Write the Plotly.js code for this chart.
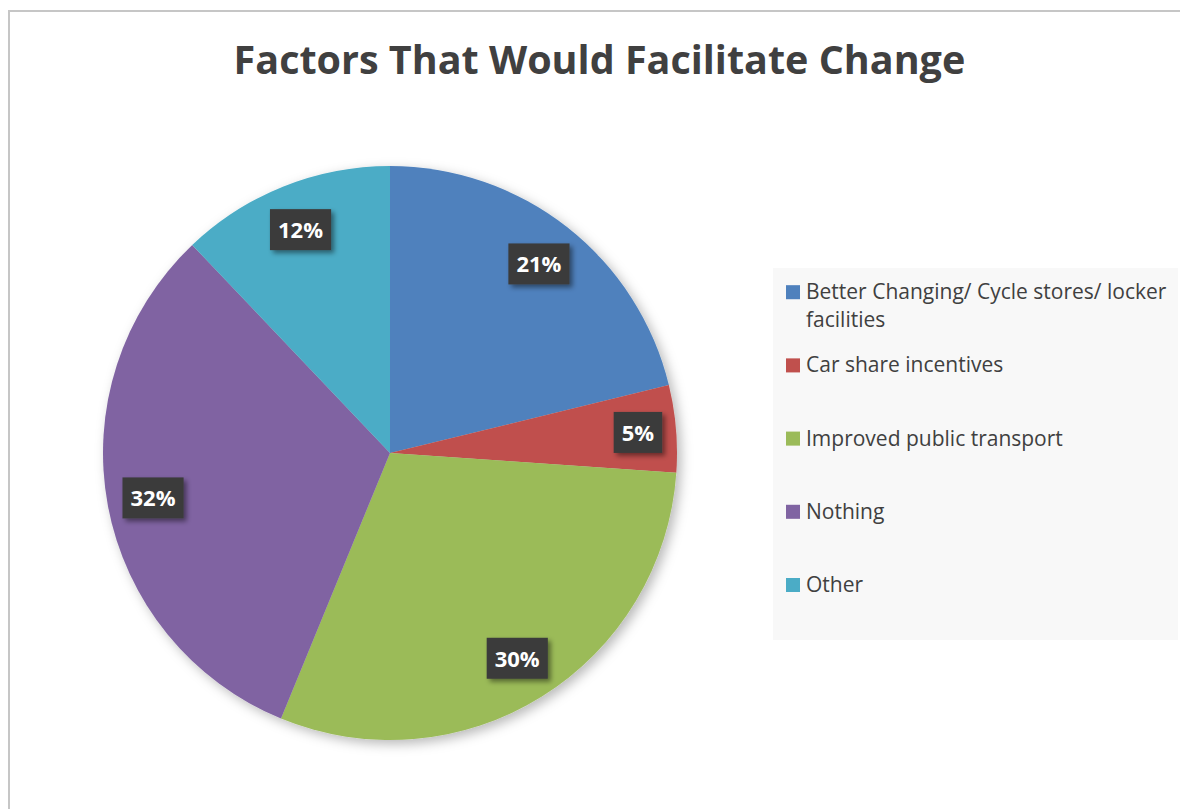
<!DOCTYPE html>
<html>
<head>
<meta charset="utf-8">
<script src="https://cdn.plot.ly/plotly-3.0.1.min.js"></script>
<style>
  html, body { margin: 0; padding: 0; background: #fff; }
  #wrap { position: relative; width: 1180px; height: 809px; overflow: hidden; }
  #frame { position: absolute; left: 8px; top: 10px; width: 1200px; height: 900px;
           border-left: 2px solid #c6c6c6; border-top: 2px solid #c6c6c6; box-sizing: border-box; }
  #chart { position: absolute; left: 0; top: 0; width: 1180px; height: 809px; }
</style>
</head>
<body>
<div id="wrap">
  <div id="frame"></div>
  <div id="chart"></div>
</div>
<script>
// ---- data ----
const categories = [
  "Better Changing/ Cycle stores/ locker facilities",
  "Car share incentives",
  "Improved public transport",
  "Nothing",
  "Other"
];
const shares = [21.2, 4.9, 30.1, 31.7, 12.1];
const sliceColors = ["#4F81BD", "#C0504D", "#9BBB59", "#8064A2", "#4BACC6"];
const chartTitle = "Factors That Would Facilitate Change";

// wrap long legend names and pad every entry to the same number of lines
function legendText(s) {
  const words = s.split(" ");
  const lines = [];
  let cur = "";
  words.forEach(w => {
    if ((cur + " " + w).trim().length > 37) { lines.push(cur.trim()); cur = w; }
    else cur = (cur + " " + w).trim();
  });
  if (cur) lines.push(cur);
  while (lines.length < 3) lines.push("&nbsp;");
  return lines.join("<br>");
}
const legendLabels = categories.map(legendText);

const W = 1180, H = 809;
const cx = 390, cy = 453, R = 287;
const dom = {
  x: [(cx - R) / W, (cx + R) / W],
  y: [(H - cy - R) / H, (H - cy + R) / H]
};
const FONT = "Open Sans, Lato, sans-serif";

const pieMain = {
  type: "pie",
  labels: legendLabels,
  values: shares,
  sort: false,
  direction: "clockwise",
  rotation: 0,
  domain: dom,
  marker: { colors: sliceColors, line: { width: 0 } },
  textinfo: "none",
  hovertemplate: "%{customdata}: %{percent:.0%}<extra></extra>",
  customdata: categories,
  showlegend: true
};

const pieLabels = {
  type: "pie",
  labels: legendLabels,
  values: shares,
  sort: false,
  direction: "clockwise",
  rotation: 0,
  domain: dom,
  hole: 0.68,
  marker: { colors: sliceColors.map(() => "rgba(0,0,0,0)"), line: { width: 0 } },
  texttemplate: "%{percent:.0%}",
  textposition: "inside",
  insidetextorientation: "horizontal",
  textfont: { family: FONT, size: 22, color: "#ffffff", weight: "bold" },
  hoverinfo: "skip",
  showlegend: false
};

const layout = {
  width: W, height: H,
  margin: { l: 0, r: 0, t: 0, b: 0 },
  paper_bgcolor: "rgba(0,0,0,0)",
  plot_bgcolor: "rgba(0,0,0,0)",
  title: {
    text: "<b>" + chartTitle + "</b>",
    font: { family: FONT, size: 39.5, color: "#404040" },
    x: 0.508, xanchor: "center",
    y: 1 - 60 / H, yanchor: "middle"
  },
  showlegend: true,
  legend: {
    x: 766 / W, xanchor: "left",
    y: 1 - 274 / H, yanchor: "top",
    bgcolor: "rgba(0,0,0,0)",
    valign: "top",
    traceorder: "normal",
    font: { family: FONT, size: 18, color: "#404040" },
    itemclick: false, itemdoubleclick: false
  },
  shapes: [{
    type: "rect", xref: "paper", yref: "paper", layer: "below",
    x0: 773 / W, x1: 1178 / W, y0: 1 - 640 / H, y1: 1 - 268 / H,
    fillcolor: "#f8f8f8", line: { width: 0 }
  }]
};

Plotly.newPlot("chart", [pieMain, pieLabels], layout, { displayModeBar: false })
.then(gd => {
  const svgNS = "http://www.w3.org/2000/svg";
  const svg = gd.querySelector("svg.main-svg");
  let defs = svg.querySelector("defs");
  if (!defs) { defs = document.createElementNS(svgNS, "defs"); svg.insertBefore(defs, svg.firstChild); }
  function addShadow(id, dx, dy, sd, op) {
    const f = document.createElementNS(svgNS, "filter");
    f.setAttribute("id", id);
    f.setAttribute("x", "-20%"); f.setAttribute("y", "-20%");
    f.setAttribute("width", "150%"); f.setAttribute("height", "150%");
    const ds = document.createElementNS(svgNS, "feDropShadow");
    ds.setAttribute("dx", dx); ds.setAttribute("dy", dy);
    ds.setAttribute("stdDeviation", sd);
    ds.setAttribute("flood-color", "#000");
    ds.setAttribute("flood-opacity", op);
    f.appendChild(ds);
    defs.appendChild(f);
  }
  addShadow("pieShadow", 4, 4, 6, 0.28);
  addShadow("boxShadow", 3, 3, 2.5, 0.45);

  const traces = gd.querySelectorAll(".pielayer .trace");
  if (traces[0]) traces[0].setAttribute("filter", "url(#pieShadow)");
  if (traces[1]) {
    traces[1].querySelectorAll("text.slicetext").forEach(t => {
      const bb = t.getBBox();
      const padX = 8, padY = 6;
      const r = document.createElementNS(svgNS, "rect");
      r.setAttribute("x", bb.x - padX);
      r.setAttribute("y", bb.y - padY + 1);
      r.setAttribute("width", bb.width + 2 * padX);
      r.setAttribute("height", bb.height + 2 * padY - 1);
      r.setAttribute("fill", "#3b3b3b");
      r.setAttribute("filter", "url(#boxShadow)");
      const tr = t.getAttribute("transform");
      if (tr) r.setAttribute("transform", tr);
      t.parentNode.insertBefore(r, t);
    });
  }

  // enlarge legend glyphs and symbols (spacing kept from layout font)
  gd.querySelectorAll(".legend [clip-path]").forEach(el => el.removeAttribute("clip-path"));
  gd.querySelectorAll(".legend .legendtext").forEach(t => {
    t.style.fontSize = "21px";
  });
  gd.querySelectorAll(".legend .legendpoints path").forEach(p => {
    const old = p.getAttribute("transform") || "";
    p.setAttribute("transform", "translate(7,0) " + old + " scale(1.17)");
  });
});
</script>
</body>
</html>
